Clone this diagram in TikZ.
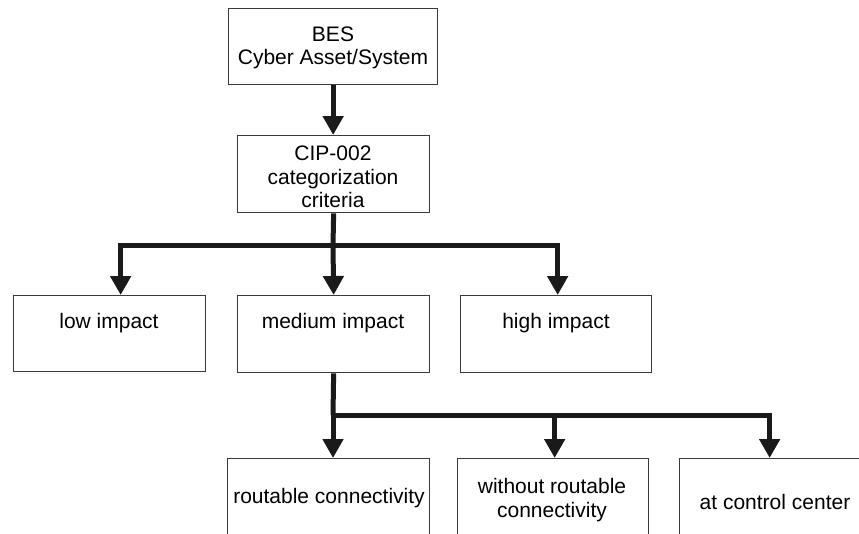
\documentclass[tikz,border=0pt]{standalone}
\usepackage{fontspec}
\setmainfont{Liberation Sans}
\usetikzlibrary{arrows.meta}
\definecolor{ink}{HTML}{1A1A1A}
\definecolor{frame}{HTML}{3A3A3A}

\begin{document}
\begin{tikzpicture}[x=1pt,y=-1pt,
  box/.style={draw=frame, line width=1.3pt, fill=white, inner sep=0pt, anchor=north west},
  lbl/.style={font=\fontsize{21}{23.5}\selectfont, align=center, text=black, inner sep=0pt},
  conn/.style={draw=ink, line width=5pt},
  arr/.style={conn, -{Triangle[width=20pt,length=19pt]}}]

  % page area; the bottom row runs off the lower edge
  \clip (0,0) rectangle (859,533);
  \fill[white] (0,0) rectangle (859,533);

  % boxes
  \node[box, minimum width=209pt, minimum height=76pt] (bes)  at (228,8)   {};
  \node[box, minimum width=192pt, minimum height=77pt] (cip)  at (237,135) {};
  \node[box, minimum width=192pt, minimum height=76pt] (low)  at (13,295)  {};
  \node[box, minimum width=192pt, minimum height=77pt] (med)  at (237,295) {};
  \node[box, minimum width=191pt, minimum height=77pt] (high) at (460,295) {};
  \node[box, minimum width=202pt, minimum height=80pt] (rout) at (227,458) {};
  \node[box, minimum width=191pt, minimum height=80pt] (wo)   at (457,458) {};
  \node[box, minimum width=196pt, minimum height=80pt] (ctl)  at (679,458) {};

  % labels
  \node[lbl] (tbes)  at (333,48)  {BES\\Cyber Asset/System};
  \node[lbl] (tcip)  at (333,177) {CIP-002\\categorization\\criteria};
  \node[lbl] (tlow)  at (109,323) {low impact};
  \node[lbl] (tmed)  at (333,323) {medium impact};
  \node[lbl] (thigh) at (556,323) {high impact};
  \node[lbl] (trout) at (329,498) {routable connectivity};
  \node[lbl] (two)   at (552,500) {without routable\\connectivity};
  \node[lbl] (tctl)  at (775,502) {at control center};

  % junction points
  \coordinate (j1) at (333,245);
  \coordinate (j2) at (333,415);

  % connectors
  \draw[arr] (bes.south) -- (bes.south |- cip.north);

  \draw[conn] (cip.south) -- (j1);
  \draw[arr] (j1) -| ([xshift=11pt]low.north);
  \draw[arr] (j1) -- (med.north);
  \draw[arr] (j1) -| ([xshift=1.5pt]high.north);

  \draw[conn] (med.south) -- (j2);
  \draw[arr] (j2) -- (j2 |- rout.north);
  \draw[arr] (j2) -| ([xshift=1.5pt]wo.north);
  \draw[arr] (j2) -| ([xshift=-8pt]ctl.north);
\end{tikzpicture}
\end{document}
